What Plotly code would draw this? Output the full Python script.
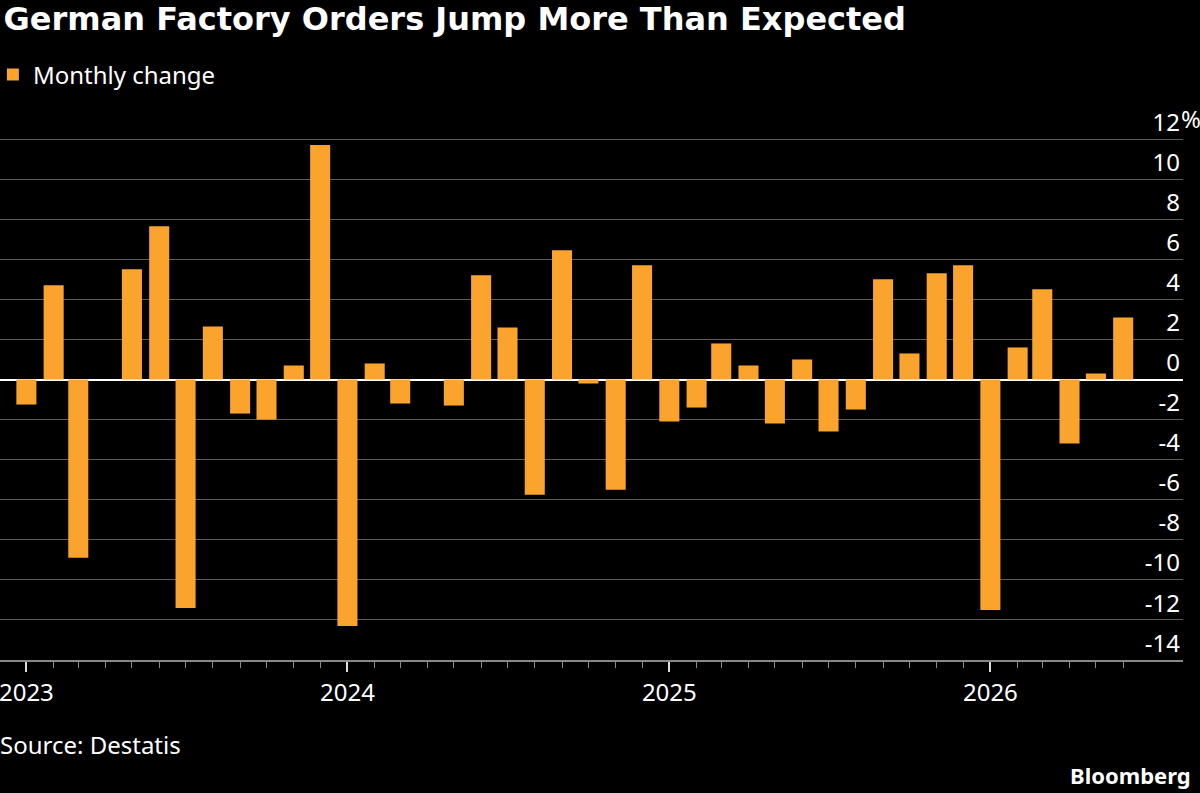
import pandas as pd
import plotly.graph_objects as go

# Monthly change in German factory orders, %
values = [-1.25, 4.7, -8.9, 0.0, 5.5, 7.65, -11.4, 2.65, -1.7, -2.0, 0.7, 11.7,
          -12.3, 0.8, -1.2, 0.0, -1.3, 5.2, 2.6, -5.75, 6.45, -0.2, -5.5, 5.7,
          -2.1, -1.4, 1.8, 0.7, -2.2, 1.0, -2.6, -1.5, 5.0, 1.3, 5.3, 5.7,
          -11.5, 1.6, 4.5, -3.2, 0.3, 3.1]
months = pd.date_range("2023-01-01", periods=len(values), freq="MS")

y_ticks = [12, 10, 8, 6, 4, 2, 0, -2, -4, -6, -8, -10, -12, -14]
y_labels = ["12", "10", "8", "6", "4", "2", "0", "-2", "-4", "-6", "-8", "-10", "-12", "-14"]

orange = "#FAA42E"
font = "Noto Sans"
fs = 24

fig = go.Figure()
fig.add_trace(go.Bar(
    x=months, y=values, name="Monthly change",
    marker=dict(color=orange, line=dict(width=0)),
    width=22.8 * 86400000,
))

fig.update_layout(
    width=1200, height=793,
    paper_bgcolor="black", plot_bgcolor="black",
    margin=dict(l=0, r=17, t=99, b=133, autoexpand=False),
    font=dict(family=font, color="white", size=fs),
    showlegend=True,
    legend=dict(x=-0.006, y=1.043, xanchor="left", yanchor="middle",
                orientation="h", font=dict(size=fs, color="white"),
                bgcolor="rgba(0,0,0,0)", itemwidth=30),
    title=dict(text="<b>German Factory Orders Jump More Than Expected</b>",
               x=0.003, xanchor="left", xref="paper", y=0.976, yanchor="middle",
               pad=dict(l=0, t=0, b=0),
               font=dict(family="DejaVu Sans", size=32, color="white")),
)

fig.update_xaxes(
    type="date",
    range=["2022-12-02", "2026-08-08"],
    tick0="2023-01-01", dtick="M12", tickformat="%Y",
    ticks="outside", ticklen=10, tickwidth=1.5, tickcolor="#dddddd",
    minor=dict(dtick="M1", ticks="outside", ticklen=6, tickwidth=1, tickcolor="#888888"),
    showline=True, linecolor="#888888", linewidth=1.5,
    showgrid=False, zeroline=False,
    ticklabeloverflow="allow",
    tickfont=dict(size=fs, color="white"),
)

fig.update_yaxes(
    range=[-14, 14], side="right",
    tickvals=y_ticks, ticktext=y_labels,
    ticklabelposition="inside top",
    ticks="", showgrid=True, gridcolor="#5c5c5c", gridwidth=1,
    zeroline=True, zerolinecolor="white", zerolinewidth=2,
    showline=False,
    tickfont=dict(size=fs, color="white"),
)

fig.add_annotation(text="%", xref="paper", yref="y", x=1, y=12,
                   xanchor="left", yanchor="bottom", showarrow=False,
                   font=dict(size=fs, color="white"), xshift=-4, yshift=2)

fig.add_annotation(text="Source: Destatis", xref="paper", yref="paper",
                   x=0, y=-0.1515, xanchor="left", yanchor="middle",
                   showarrow=False, font=dict(size=fs, color="white"), xshift=-2)

fig.add_annotation(text="<b>Bloomberg</b>", xref="paper", yref="paper",
                   x=1, y=-0.205, xanchor="right", yanchor="middle",
                   showarrow=False, font=dict(size=22, color="white"), xshift=10)

fig.write_html("out.html", config={"displayModeBar": False},
               post_script="document.body.style.margin='0';")
